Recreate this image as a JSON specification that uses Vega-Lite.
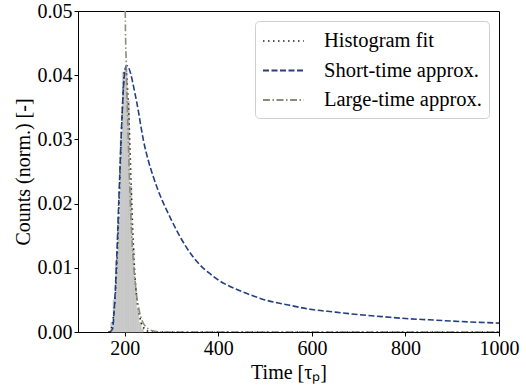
{
  "$schema": "https://vega.github.io/schema/vega-lite/v6.json",
  "width": 421,
  "height": 321,
  "autosize": {"type": "none"},
  "padding": {"left": 78, "top": 11, "right": 27, "bottom": 57},
  "background": "white",
  "config": {
    "view": {"stroke": "#000", "strokeWidth": 1},
    "font": "Liberation Serif",
    "axis": {
      "labelFont": "Liberation Serif",
      "titleFont": "Liberation Serif",
      "labelFontSize": 20,
      "titleFontSize": 20,
      "titleFontWeight": "normal",
      "labelColor": "#000",
      "titleColor": "#000",
      "domainColor": "#000",
      "tickColor": "#000",
      "tickSize": 4,
      "grid": false
    },
    "legend": {
      "labelFont": "Liberation Serif",
      "labelFontSize": 20.5,
      "labelColor": "#000"
    }
  },
  "datasets": {
    "hist": [
      {"start": 170, "end": 175, "count": 0.0015},
      {"start": 175, "end": 180, "count": 0.005},
      {"start": 180, "end": 185, "count": 0.011},
      {"start": 185, "end": 190, "count": 0.018},
      {"start": 190, "end": 195, "count": 0.030},
      {"start": 195, "end": 200, "count": 0.0405},
      {"start": 200, "end": 205, "count": 0.041},
      {"start": 205, "end": 210, "count": 0.036},
      {"start": 210, "end": 215, "count": 0.0227},
      {"start": 215, "end": 220, "count": 0.013},
      {"start": 220, "end": 225, "count": 0.007},
      {"start": 225, "end": 230, "count": 0.0035},
      {"start": 230, "end": 235, "count": 0.0015},
      {"start": 235, "end": 240, "count": 0.0005}
    ],
    "lines": [
      {"series": "Histogram fit", "t": 165, "v": 0},
      {"series": "Histogram fit", "t": 170, "v": 0.0003},
      {"series": "Histogram fit", "t": 175, "v": 0.002},
      {"series": "Histogram fit", "t": 180, "v": 0.006},
      {"series": "Histogram fit", "t": 185, "v": 0.014},
      {"series": "Histogram fit", "t": 190, "v": 0.025},
      {"series": "Histogram fit", "t": 195, "v": 0.035},
      {"series": "Histogram fit", "t": 199, "v": 0.0405},
      {"series": "Histogram fit", "t": 202, "v": 0.041},
      {"series": "Histogram fit", "t": 205, "v": 0.039},
      {"series": "Histogram fit", "t": 208, "v": 0.035},
      {"series": "Histogram fit", "t": 211, "v": 0.029},
      {"series": "Histogram fit", "t": 214, "v": 0.022},
      {"series": "Histogram fit", "t": 217, "v": 0.016},
      {"series": "Histogram fit", "t": 220, "v": 0.011},
      {"series": "Histogram fit", "t": 223, "v": 0.0075},
      {"series": "Histogram fit", "t": 226, "v": 0.005},
      {"series": "Histogram fit", "t": 230, "v": 0.0032},
      {"series": "Histogram fit", "t": 235, "v": 0.0015},
      {"series": "Histogram fit", "t": 240, "v": 0.0007},
      {"series": "Histogram fit", "t": 247, "v": 0.0002},
      {"series": "Histogram fit", "t": 260, "v": 0},
      {"series": "Histogram fit", "t": 1000, "v": 0},
      {"series": "Short-time approx.", "t": 168, "v": 0},
      {"series": "Short-time approx.", "t": 174, "v": 0.0005},
      {"series": "Short-time approx.", "t": 177, "v": 0.003},
      {"series": "Short-time approx.", "t": 180, "v": 0.007},
      {"series": "Short-time approx.", "t": 183, "v": 0.012},
      {"series": "Short-time approx.", "t": 186, "v": 0.018},
      {"series": "Short-time approx.", "t": 189, "v": 0.024},
      {"series": "Short-time approx.", "t": 192, "v": 0.030},
      {"series": "Short-time approx.", "t": 195, "v": 0.035},
      {"series": "Short-time approx.", "t": 198, "v": 0.039},
      {"series": "Short-time approx.", "t": 201, "v": 0.041},
      {"series": "Short-time approx.", "t": 204, "v": 0.0415},
      {"series": "Short-time approx.", "t": 208, "v": 0.0412},
      {"series": "Short-time approx.", "t": 212, "v": 0.0404},
      {"series": "Short-time approx.", "t": 216, "v": 0.0392},
      {"series": "Short-time approx.", "t": 220, "v": 0.0378},
      {"series": "Short-time approx.", "t": 225, "v": 0.036},
      {"series": "Short-time approx.", "t": 230, "v": 0.034},
      {"series": "Short-time approx.", "t": 235, "v": 0.0318},
      {"series": "Short-time approx.", "t": 240, "v": 0.0298},
      {"series": "Short-time approx.", "t": 250, "v": 0.0268},
      {"series": "Short-time approx.", "t": 260, "v": 0.0244},
      {"series": "Short-time approx.", "t": 270, "v": 0.0223},
      {"series": "Short-time approx.", "t": 280, "v": 0.0205},
      {"series": "Short-time approx.", "t": 290, "v": 0.0189},
      {"series": "Short-time approx.", "t": 300, "v": 0.0174},
      {"series": "Short-time approx.", "t": 320, "v": 0.0146},
      {"series": "Short-time approx.", "t": 340, "v": 0.0123},
      {"series": "Short-time approx.", "t": 360, "v": 0.0105},
      {"series": "Short-time approx.", "t": 380, "v": 0.0092},
      {"series": "Short-time approx.", "t": 400, "v": 0.0081},
      {"series": "Short-time approx.", "t": 425, "v": 0.0071},
      {"series": "Short-time approx.", "t": 450, "v": 0.0063},
      {"series": "Short-time approx.", "t": 475, "v": 0.0056},
      {"series": "Short-time approx.", "t": 500, "v": 0.0050},
      {"series": "Short-time approx.", "t": 550, "v": 0.0042},
      {"series": "Short-time approx.", "t": 600, "v": 0.0035},
      {"series": "Short-time approx.", "t": 650, "v": 0.0031},
      {"series": "Short-time approx.", "t": 700, "v": 0.0027},
      {"series": "Short-time approx.", "t": 750, "v": 0.0024},
      {"series": "Short-time approx.", "t": 800, "v": 0.0021},
      {"series": "Short-time approx.", "t": 850, "v": 0.0019},
      {"series": "Short-time approx.", "t": 900, "v": 0.0017},
      {"series": "Short-time approx.", "t": 950, "v": 0.00153},
      {"series": "Short-time approx.", "t": 1000, "v": 0.00138},
      {"series": "Large-time approx.", "t": 199.5, "v": 0.09},
      {"series": "Large-time approx.", "t": 201, "v": 0.05},
      {"series": "Large-time approx.", "t": 203, "v": 0.042},
      {"series": "Large-time approx.", "t": 205, "v": 0.036},
      {"series": "Large-time approx.", "t": 207, "v": 0.031},
      {"series": "Large-time approx.", "t": 210, "v": 0.024},
      {"series": "Large-time approx.", "t": 213, "v": 0.018},
      {"series": "Large-time approx.", "t": 216, "v": 0.0135},
      {"series": "Large-time approx.", "t": 220, "v": 0.0095},
      {"series": "Large-time approx.", "t": 224, "v": 0.0065},
      {"series": "Large-time approx.", "t": 228, "v": 0.0044},
      {"series": "Large-time approx.", "t": 233, "v": 0.0027},
      {"series": "Large-time approx.", "t": 238, "v": 0.0016},
      {"series": "Large-time approx.", "t": 245, "v": 0.0008},
      {"series": "Large-time approx.", "t": 255, "v": 0.0003},
      {"series": "Large-time approx.", "t": 265, "v": 0.0001},
      {"series": "Large-time approx.", "t": 280, "v": 0},
      {"series": "Large-time approx.", "t": 1000, "v": 0}
    ]
  },
  "layer": [
    {
      "data": {"name": "hist"},
      "mark": {"type": "rect", "color": "#c8c8c8", "stroke": "#c8c8c8", "strokeWidth": 0.6},
      "encoding": {
        "x": {"field": "start", "type": "quantitative",
              "scale": {"domain": [100, 1000], "nice": false},
              "axis": {"values": [200, 400, 600, 800, 1000], "format": "d", "title": "Time [τₚ]", "labelFlush": false}},
        "x2": {"field": "end"},
        "y": {"field": "count", "type": "quantitative",
              "scale": {"domain": [0, 0.05], "nice": false},
              "axis": {"values": [0, 0.01, 0.02, 0.03, 0.04, 0.05], "format": ".2f", "title": "Counts (norm.) [-]"}},
        "y2": {"datum": 0}
      }
    },
    {
      "data": {"name": "lines"},
      "mark": {"type": "line", "clip": true, "strokeWidth": 1.6, "interpolate": "monotone"},
      "encoding": {
        "x": {"field": "t", "type": "quantitative"},
        "y": {"field": "v", "type": "quantitative"},
        "color": {"field": "series", "type": "nominal",
                  "scale": {"domain": ["Histogram fit", "Short-time approx.", "Large-time approx."],
                            "range": ["#222222", "#243f80", "#8e8b78"]},
                  "legend": {"title": null, "orient": "top-right", "offset": 10,
                             "symbolType": "M-1.7,0H1.7", "symbolSize": 576, "symbolStrokeWidth": 1.6,
                             "symbolOffset": 8.4,
                             "fillColor": "white", "strokeColor": "#d0d0d0", "cornerRadius": 4,
                             "padding": 7, "labelOffset": 27.6, "rowPadding": 5.5}},
        "strokeDash": {"field": "series", "type": "nominal",
                       "scale": {"domain": ["Histogram fit", "Short-time approx.", "Large-time approx."],
                                 "range": [[1.5, 3.5], [6, 2.5], [7, 2.5, 1.5, 2.5]]},
                       "legend": null},
        "strokeWidth": {"field": "series", "type": "nominal",
                        "scale": {"domain": ["Histogram fit", "Short-time approx.", "Large-time approx."],
                                  "range": [1.6, 2, 1.4]},
                        "legend": null}
      }
    }
  ]
}
